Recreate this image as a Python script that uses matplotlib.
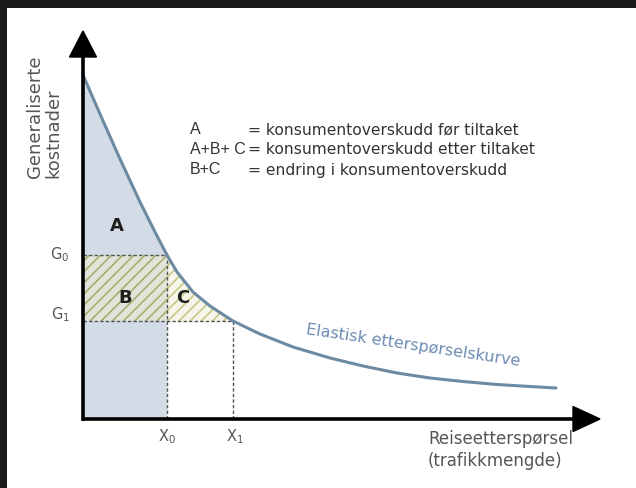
import matplotlib
matplotlib.use('Agg')
import matplotlib.pyplot as plt
from matplotlib.patches import Polygon
import numpy as np

plt.rcParams['font.family'] = ['DejaVu Sans']
plt.rcParams['hatch.linewidth'] = 1.2
plt.rcParams['mathtext.fontset'] = 'dejavusans'

# Demand curve (quantity, generalised cost)
curve_x = [0, 17, 37, 57, 72, 84, 94, 110, 127, 150, 177, 210, 247, 280, 314, 347, 380, 414, 447, 473]
curve_y = [344, 305, 260, 217, 187, 164, 147, 127, 113, 98, 85, 72, 61, 53, 46, 41, 37.5, 34.5, 32.5, 31]
X0, X1 = 84, 150
G0, G1 = 164, 98

legend_keys = ['A', 'A+B+ C', 'B+C']
legend_desc = ['= konsumentoverskudd før tiltaket',
               '= konsumentoverskudd etter tiltaket',
               '= endring i konsumentoverskudd']
ylabel = 'Generaliserte\nkostnader'
xlabel = 'Reiseetterspørsel\n(trafikkmengde)'
curve_label = 'Elastisk etterspørselskurve'

cx = np.array(curve_x, dtype=float)
cy = np.array(curve_y, dtype=float)

fig = plt.figure(figsize=(6.36, 4.88), dpi=100, facecolor='#1b1b1b')
ax = fig.add_axes([7/636, 0, 629/636, 480/488])
ax.set_facecolor('white')
ax.set_xlim(-76, 553)
ax.set_ylim(-69, 411)
for s in ax.spines.values():
    s.set_visible(False)
ax.set_xticks([])
ax.set_yticks([])

blue = '#d3dbe7'
# Area A
mA = cx <= X0
ax.fill_between(cx[mA], G0, cy[mA], color=blue, lw=0, zorder=1)
# lower rectangle
ax.fill_between([0, X0], 0, G1, color=blue, lw=0, zorder=1)
# Area B (hatched)
ax.fill_between([0, X0], G1, G0, facecolor='#e1e5d9', hatch='///',
                edgecolor='#a9ae72', lw=0, zorder=1)
# Area C (hatched)
mC = (cx >= X0) & (cx <= X1)
ax.fill_between(cx[mC], G1, cy[mC], facecolor='#f6f6ea', hatch='///',
                edgecolor='#c6ca84', lw=0, zorder=1)

dash = (0, (2.5, 1.5))
ax.plot([0, X0], [G0, G0], color='#555555', lw=1, ls=dash, zorder=2)
ax.plot([0, X1], [G1, G1], color='#555555', lw=1, ls=dash, zorder=2)
ax.plot([X0, X0], [0, G0], color='#555555', lw=1, ls=dash, zorder=2)
ax.plot([X1, X1], [0, G1], color='#555555', lw=1, ls=dash, zorder=2)

ax.plot(cx, cy, color='#6d8aa3', lw=2.2, solid_capstyle='round',
        solid_joinstyle='round', zorder=3)

# axes with arrows
ax.plot([0, 0], [-1.5, 362], color='black', lw=2.6, zorder=4, solid_capstyle='butt')
ax.add_patch(Polygon([(-13.5, 362), (13.5, 362), (0, 388)], closed=True,
                     color='black', zorder=4))
ax.plot([-1.5, 490], [0, 0], color='black', lw=2.6, zorder=4, solid_capstyle='butt')
ax.add_patch(Polygon([(490, 12.5), (490, -12.5), (517, 0)], closed=True,
                     color='black', zorder=4))

# region labels
ax.text(34, 193, 'A', fontsize=13, fontweight='bold', color='#1e1e1e', ha='center', va='center', zorder=5)
ax.text(42, 121, 'B', fontsize=13, fontweight='bold', color='#1e1e1e', ha='center', va='center', zorder=5)
ax.text(100, 121, 'C', fontsize=13, fontweight='bold', color='#1e1e1e', ha='center', va='center', zorder=5)

# G and X labels
ax.text(-23, 164, r'$\mathregular{G_0}$', fontsize=10.5, color='#555555', ha='center', va='center')
ax.text(-23, 104, r'$\mathregular{G_1}$', fontsize=10.5, color='#555555', ha='center', va='center')
ax.text(X0, -18, r'$\mathregular{X_0}$', fontsize=10.5, color='#555555', ha='center', va='center')
ax.text(X1 + 2, -18, r'$\mathregular{X_1}$', fontsize=10.5, color='#555555', ha='center', va='center')

# legend text
for i, (k, d) in enumerate(zip(legend_keys, legend_desc)):
    yy = 289 - 20 * i
    ax.text(107, yy, k, fontsize=11.5, family=['Liberation Sans', 'DejaVu Sans'],
            color='#333333', ha='left', va='center')
    ax.text(165, yy, d, fontsize=11.2, color='#333333', ha='left', va='center')

ax.text(-39, 302, ylabel, fontsize=13, color='#555555', rotation=90,
        ha='center', va='center', multialignment='left', linespacing=1.0)
ax.text(345, -31, xlabel, fontsize=12, color='#555555', ha='left', va='center',
        linespacing=1.3)
ax.text(330, 73, curve_label, fontsize=11.5, color='#6d8cb3', rotation=-8.5,
        ha='center', va='center')

fig.savefig('out.png', dpi=100, facecolor=fig.get_facecolor())
